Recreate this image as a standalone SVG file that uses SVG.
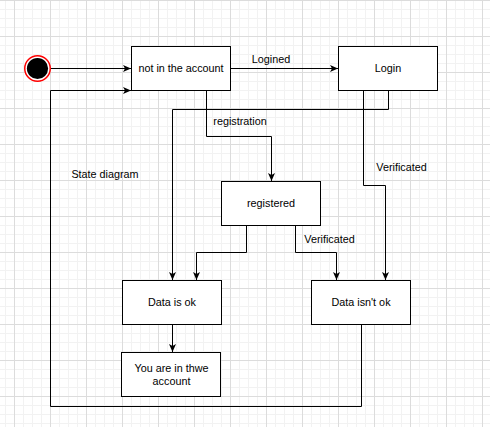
<svg xmlns="http://www.w3.org/2000/svg" width="490" height="427" viewBox="0 0 490 427">
<style>
.node rect{fill:#fff;stroke:#000;stroke-width:1}
text{font-family:"Liberation Sans",Arial,sans-serif;font-size:10.8px;fill:#000;text-anchor:middle}
.edge{fill:none;stroke:#000;stroke-width:1;marker-end:url(#arr)}
.edge2{fill:none;stroke:#000;stroke-width:1}
</style>
<defs>
<pattern id="minor" patternUnits="userSpaceOnUse" x="5" y="0" width="9" height="9">
<path d="M0.5,0V9M0,0.5H9" stroke="#f2f2f2" stroke-width="1" fill="none"/>
</pattern>
<pattern id="major" patternUnits="userSpaceOnUse" x="14" y="0" width="36" height="36">
<path d="M0.5,0V36M0,0.5H36" stroke="#dcdcdc" stroke-width="1" fill="none"/>
</pattern>
<marker id="arr" markerUnits="userSpaceOnUse" viewBox="0 0 8 7" refX="8" refY="3.5" markerWidth="8" markerHeight="7" orient="auto">
<path d="M0,0L8,3.5L0,7L2,3.5Z" fill="#000"/>
</marker>
</defs>
<rect width="490" height="427" fill="#fff"/>
<rect width="490" height="427" fill="url(#minor)"/>
<rect width="490" height="427" fill="url(#major)"/>

<g id="connectors">
<path class="edge" d="M51,68.5H131"/>
<path class="edge" d="M231,68.5H338"/>
<path class="edge" d="M388.5,91V109.5H172.5V280"/>
<path class="edge" d="M363.5,91V185.5H385.5V280"/>
<path class="edge" d="M206.5,91V136.5H271.5V181"/>
<path class="edge" d="M246.5,226V252.5H196.5V280"/>
<path class="edge" d="M295.5,226V252.5H336.5V280"/>
<path class="edge" d="M172.5,325V352"/>
<path class="edge" d="M361.5,325V406.5H50.5V90.5H131"/>
<text x="271" y="63">Logined</text>
<text x="240" y="124.5">registration</text>
<text x="401.5" y="170.5">Verificated</text>
<text x="329.5" y="243">Verificated</text>
</g>

<g id="start">
<circle cx="37.5" cy="68.5" r="12.75" fill="#fff" stroke="#ff0000" stroke-width="1.5"/>
<circle cx="37.5" cy="68.5" r="10.6" fill="#000"/>
</g>
<g id="not-in-account" class="node">
<rect x="131.5" y="46.5" width="99" height="44"/>
<text x="181" y="72.3">not in the account</text>
</g>
<g id="login" class="node">
<rect x="338.5" y="46.5" width="99" height="44"/>
<text x="388" y="72.3">Login</text>
</g>
<g id="registered" class="node">
<rect x="221.5" y="181.5" width="99" height="44"/>
<text x="271" y="207.3">registered</text>
</g>
<g id="data-ok" class="node">
<rect x="122.5" y="280.5" width="99" height="44"/>
<text x="172" y="306.3">Data is ok</text>
</g>
<g id="data-not-ok" class="node">
<rect x="311.5" y="280.5" width="99" height="44"/>
<text x="361" y="306.3">Data isn't ok</text>
</g>
<g id="in-account" class="node">
<rect x="121.5" y="352.5" width="99" height="44"/>
<text x="171.5" y="372">You are in thwe</text>
<text x="171.5" y="385">account</text>
</g>
<g id="label-state-diagram">
<text x="105" y="178">State diagram</text>
</g>
</svg>
